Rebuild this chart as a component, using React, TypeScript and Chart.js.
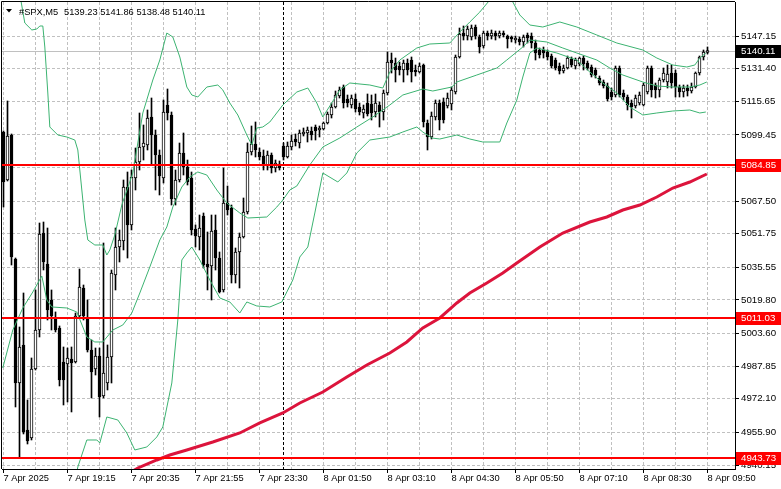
import React, { useEffect, useRef } from "react";
import { Chart, registerables } from "chart.js";

Chart.register(...registerables);

// ---------------- DATA ----------------
const symbolTitle = "#SPX,M5";
const ohlcTitle = "5139.23 5141.86 5138.48 5140.11";

const opens = [
  5100.83, 5077.67, 5099.38, 5039.55, 4979.72, 4998.06, 4957.05, 4953.19, 4986.48, 5005.30,
  5052.10, 5037.14, 5019.77, 5011.09, 5006.26, 4989.86, 4988.89, 4991.30, 4989.86, 5012.06,
  5025.56, 5011.09, 4995.65, 4986.48, 4992.75, 4973.45, 4979.72, 4992.27, 5031.83, 5045.34,
  5048.24, 5074.29, 5055.96, 5078.64, 5086.35, 5093.59, 5094.56, 5108.07, 5099.38, 5089.73,
  5078.64, 5113.86, 5109.03, 5068.50, 5077.67, 5090.70, 5083.94, 5078.64, 5054.03, 5050.17,
  5060.30, 5037.14, 5036.17, 5053.54, 5040.03, 5024.60, 5066.57, 5064.16, 5031.83, 5042.93,
  5050.17, 5062.23, 5091.18, 5095.04, 5091.18, 5089.25, 5084.43, 5089.73, 5083.46, 5085.39,
  5094.08, 5088.77, 5093.59, 5097.45, 5095.52, 5099.87, 5100.35, 5101.31, 5103.24, 5101.80,
  5102.28, 5105.17, 5109.03, 5112.89, 5118.20, 5122.54, 5116.75, 5113.86, 5116.75, 5112.89,
  5110.00, 5114.82, 5114.34, 5110.48, 5113.86, 5110.48, 5119.65, 5135.57, 5134.12, 5132.67,
  5130.75, 5134.12, 5135.57, 5130.75, 5129.78, 5133.16, 5105.17, 5098.42, 5108.07, 5114.82,
  5115.31, 5113.38, 5114.34, 5120.13, 5137.02, 5148.60, 5147.15, 5146.67, 5151.49, 5146.67,
  5142.32, 5148.60, 5147.15, 5148.60, 5147.15, 5148.60, 5147.15, 5146.67, 5145.22, 5145.70,
  5144.26, 5147.63, 5147.15, 5143.77, 5140.40, 5140.40, 5139.43, 5137.50, 5135.57, 5132.67,
  5130.26, 5131.71, 5136.05, 5132.67, 5133.64, 5136.53, 5134.12, 5132.19, 5130.75, 5126.89,
  5124.96, 5123.03, 5120.13, 5118.68, 5131.71, 5119.65, 5117.72, 5114.82, 5113.38, 5114.82,
  5113.86, 5120.13, 5131.71, 5123.51, 5121.10, 5125.92, 5124.96, 5129.30, 5129.30, 5122.54,
  5120.13, 5122.06, 5120.61, 5122.54, 5129.30, 5137.02, 5139.23,
];
const highs = [
  5101.31, 5115.79, 5099.87, 5040.03, 5006.75, 5023.15, 4971.52, 4991.79, 5024.60, 5056.92,
  5057.40, 5054.51, 5024.60, 5014.00, 5007.23, 4997.09, 4996.61, 4997.09, 5013.50, 5034.73,
  5027.01, 5019.77, 5000.47, 4996.61, 4996.61, 5047.27, 4998.06, 5034.24, 5054.51, 5053.54,
  5077.67, 5081.53, 5082.49, 5093.11, 5110.00, 5104.21, 5111.45, 5117.24, 5101.80, 5092.15,
  5116.27, 5121.58, 5110.48, 5082.49, 5095.52, 5100.35, 5087.32, 5081.53, 5055.96, 5060.78,
  5061.75, 5052.58, 5060.78, 5060.78, 5042.93, 5083.46, 5074.78, 5065.60, 5044.86, 5052.10,
  5068.99, 5095.52, 5103.73, 5105.66, 5093.11, 5092.15, 5091.66, 5090.70, 5087.32, 5086.84,
  5095.52, 5096.01, 5099.38, 5099.87, 5101.80, 5102.76, 5103.24, 5103.24, 5104.21, 5103.73,
  5105.66, 5110.48, 5114.82, 5120.61, 5122.54, 5123.51, 5118.68, 5118.68, 5119.17, 5114.82,
  5113.86, 5119.17, 5118.68, 5119.17, 5115.31, 5121.10, 5139.43, 5138.95, 5136.53, 5134.60,
  5135.57, 5136.05, 5137.02, 5133.16, 5134.12, 5133.64, 5106.62, 5110.48, 5116.27, 5116.27,
  5117.24, 5119.65, 5122.54, 5137.98, 5151.01, 5151.98, 5151.98, 5152.46, 5152.46, 5147.63,
  5149.56, 5149.56, 5150.05, 5149.56, 5149.56, 5149.56, 5147.63, 5147.15, 5147.15, 5146.67,
  5147.63, 5148.60, 5148.60, 5145.22, 5141.36, 5141.84, 5140.40, 5138.46, 5136.53, 5134.12,
  5133.16, 5137.50, 5137.02, 5136.53, 5137.02, 5137.50, 5135.09, 5133.16, 5131.71, 5127.85,
  5125.92, 5124.47, 5122.06, 5132.67, 5132.67, 5121.10, 5118.68, 5116.27, 5118.68, 5120.13,
  5124.47, 5132.67, 5132.67, 5124.47, 5126.89, 5131.71, 5133.16, 5133.16, 5130.75, 5123.51,
  5123.51, 5123.51, 5124.47, 5129.78, 5137.50, 5140.40, 5141.86,
];
const lows = [
  5064.64, 5077.19, 5036.66, 4968.15, 4943.73, 4955.12, 4950.29, 4952.22, 4985.99, 5001.92,
  5034.24, 5010.12, 5005.30, 5004.33, 4978.28, 4969.11, 4970.56, 4965.74, 4989.37, 5011.09,
  5010.12, 4994.68, 4972.49, 4983.58, 4963.33, 4972.49, 4976.35, 4979.72, 5024.60, 5038.11,
  5043.90, 5040.03, 5053.54, 5072.85, 5082.49, 5087.32, 5092.15, 5084.91, 5072.85, 5070.44,
  5076.22, 5106.62, 5065.60, 5065.60, 5076.71, 5080.08, 5075.26, 5051.13, 5045.34, 5043.90,
  5035.21, 5024.60, 5019.77, 5034.24, 5023.15, 5023.63, 5060.78, 5027.97, 5027.97, 5025.56,
  5049.68, 5061.27, 5089.73, 5088.77, 5087.32, 5082.49, 5082.49, 5081.05, 5081.53, 5082.49,
  5087.32, 5088.29, 5092.15, 5094.08, 5093.11, 5098.90, 5096.01, 5096.97, 5096.97, 5098.42,
  5101.80, 5104.69, 5107.59, 5112.41, 5117.24, 5112.41, 5112.89, 5112.41, 5110.48, 5109.03,
  5107.59, 5108.55, 5106.62, 5108.07, 5103.24, 5106.62, 5118.68, 5129.30, 5124.96, 5128.33,
  5124.96, 5128.33, 5124.96, 5127.85, 5129.30, 5103.24, 5092.15, 5097.45, 5106.62, 5101.80,
  5105.17, 5112.41, 5111.45, 5119.17, 5136.53, 5145.22, 5145.22, 5145.22, 5145.70, 5138.95,
  5141.36, 5145.22, 5145.70, 5145.22, 5146.19, 5146.67, 5141.36, 5144.26, 5143.77, 5142.81,
  5141.84, 5143.77, 5141.36, 5135.57, 5136.53, 5136.53, 5135.57, 5131.71, 5130.75, 5128.82,
  5129.30, 5131.23, 5132.19, 5131.23, 5132.67, 5130.75, 5130.75, 5127.37, 5126.89, 5123.51,
  5122.06, 5115.79, 5116.27, 5117.72, 5117.72, 5116.27, 5111.45, 5107.59, 5112.41, 5113.86,
  5113.38, 5119.17, 5117.72, 5117.24, 5117.72, 5124.96, 5122.06, 5122.06, 5117.72, 5117.72,
  5117.72, 5118.20, 5119.65, 5122.06, 5128.33, 5135.57, 5138.48,
];
const closes = [
  5076.71, 5098.90, 5040.52, 4979.72, 4997.09, 4956.09, 4951.74, 4986.48, 5005.30, 5051.61,
  5038.11, 5014.95, 5012.06, 5005.30, 4981.17, 4981.17, 4991.79, 4989.37, 5012.06, 5026.04,
  5012.06, 4995.65, 4985.03, 4992.75, 4972.97, 4984.55, 4992.27, 5032.80, 5045.34, 5048.72,
  5074.29, 5055.96, 5079.12, 5086.35, 5093.59, 5095.52, 5107.59, 5099.38, 5089.73, 5079.60,
  5110.48, 5110.00, 5068.50, 5077.67, 5090.70, 5083.94, 5076.71, 5053.54, 5050.65, 5054.51,
  5036.66, 5035.69, 5053.06, 5040.03, 5023.63, 5066.57, 5063.19, 5031.83, 5042.93, 5050.17,
  5062.23, 5091.18, 5095.04, 5092.15, 5088.77, 5084.43, 5089.73, 5083.46, 5085.87, 5083.46,
  5088.77, 5094.08, 5096.49, 5096.01, 5100.35, 5100.83, 5101.80, 5099.38, 5101.31, 5102.76,
  5105.17, 5109.52, 5112.89, 5118.68, 5121.10, 5114.82, 5114.82, 5117.24, 5111.93, 5110.48,
  5111.93, 5109.52, 5110.00, 5114.82, 5110.48, 5119.65, 5134.60, 5134.12, 5130.75, 5130.75,
  5134.12, 5130.75, 5129.78, 5129.78, 5132.67, 5105.66, 5098.42, 5108.55, 5114.82, 5106.62,
  5106.62, 5117.24, 5121.10, 5137.02, 5148.11, 5147.15, 5150.53, 5151.01, 5147.15, 5141.84,
  5148.60, 5147.15, 5148.60, 5147.15, 5148.60, 5147.63, 5145.70, 5145.70, 5146.19, 5144.26,
  5146.67, 5146.19, 5143.77, 5138.95, 5137.98, 5138.95, 5137.02, 5132.67, 5131.71, 5130.26,
  5131.71, 5136.53, 5133.16, 5135.57, 5136.53, 5133.64, 5131.71, 5128.33, 5128.33, 5124.47,
  5123.03, 5116.75, 5117.72, 5131.71, 5118.68, 5117.72, 5113.86, 5112.89, 5117.24, 5118.68,
  5123.51, 5131.71, 5121.10, 5121.10, 5125.92, 5129.30, 5128.82, 5124.47, 5122.54, 5120.13,
  5122.06, 5120.61, 5122.54, 5129.30, 5137.02, 5139.43, 5140.11,
];

// Bollinger bands and moving average as [bar, price]
const bbUpper = [
  [2.08, 5176.58], [4.33, 5164.52], [5.33, 5153.42], [7.08, 5150.05], [8.33, 5150.53], [9.08, 5151.98],
  [9.83, 5151.98], [10.33, 5141.84], [11.08, 5119.65], [11.58, 5103.24], [13.58, 5099.38], [15.83, 5098.42],
  [17.83, 5096.97], [18.58, 5092.15], [19.08, 5082.49], [20.33, 5058.37], [21.08, 5048.72], [22.83, 5046.31],
  [24.83, 5046.31], [25.83, 5041.48], [26.58, 5043.9], [27.83, 5051.13], [29.58, 5065.6], [32.33, 5081.05],
  [34.83, 5110.0], [37.33, 5125.92], [39.08, 5135.57], [40.83, 5148.6], [42.33, 5146.67], [44.08, 5137.02],
  [45.83, 5122.54], [47.08, 5118.68], [48.58, 5117.72], [50.83, 5122.54], [53.58, 5123.51], [54.83, 5121.1],
  [56.58, 5114.82], [58.58, 5109.03], [60.83, 5099.38], [62.08, 5094.56], [63.33, 5102.76], [64.83, 5103.24],
  [66.58, 5105.66], [69.83, 5113.86], [73.33, 5120.13], [76.08, 5122.06], [78.33, 5114.82], [79.83, 5108.07],
  [81.58, 5113.38], [84.08, 5121.1], [86.58, 5124.47], [91.58, 5123.51], [94.83, 5122.06], [96.58, 5129.78],
  [99.08, 5135.57], [103.33, 5141.36], [106.58, 5143.29], [111.58, 5143.77], [114.08, 5149.08], [116.58, 5153.91],
  [119.08, 5158.73], [121.58, 5164.52], [124.08, 5168.38], [126.58, 5166.45], [127.33, 5163.56], [129.08, 5157.28],
  [131.58, 5152.46], [134.83, 5151.49], [139.08, 5153.91], [143.33, 5151.49], [148.33, 5147.63], [153.33, 5143.77],
  [159.83, 5140.4], [163.33, 5136.53], [167.33, 5133.16], [170.83, 5132.19], [172.83, 5133.16], [174.08, 5136.53],
  [175.58, 5138.95],
];
const bbMiddle = [
  [-0.18, 4986.96], [2.33, 5005.3], [4.83, 5015.91], [7.33, 5023.63], [9.58, 5031.35], [10.83, 5019.77],
  [12.08, 5016.4], [15.83, 5015.91], [18.33, 5013.98], [20.83, 5001.92], [22.83, 4999.51], [24.83, 4999.51],
  [27.33, 5005.3], [29.83, 5007.71], [32.08, 5013.5], [34.08, 5023.15], [36.58, 5035.69], [39.08, 5048.72],
  [40.83, 5054.99], [42.33, 5064.64], [44.58, 5074.29], [46.58, 5079.12], [48.58, 5081.53], [50.83, 5080.08],
  [53.33, 5072.85], [55.83, 5066.57], [59.08, 5061.75], [61.08, 5059.33], [65.83, 5059.82], [68.33, 5064.64],
  [69.83, 5068.02], [71.58, 5072.85], [73.33, 5074.78], [76.58, 5084.91], [79.83, 5093.59], [84.08, 5097.94],
  [88.33, 5103.24], [92.33, 5108.07], [96.58, 5113.86], [99.83, 5118.68], [104.83, 5121.58], [107.33, 5120.61],
  [112.08, 5122.54], [113.33, 5124.96], [118.33, 5128.33], [123.33, 5131.71], [125.83, 5135.57], [129.83, 5141.84],
  [131.58, 5145.22], [135.83, 5144.26], [139.83, 5141.36], [143.33, 5138.95], [148.33, 5135.57], [151.58, 5131.71],
  [154.83, 5128.33], [159.83, 5124.96], [163.33, 5123.03], [167.33, 5122.54], [171.58, 5122.54], [174.08, 5123.51],
  [175.83, 5124.96],
];
const bbLower = [
  [17.08, 4923.27], [18.58, 4939.19], [20.83, 4952.22], [23.33, 4952.22], [24.08, 4950.77], [25.83, 4963.32],
  [28.58, 4961.87], [30.83, 4955.6], [32.83, 4947.4], [35.83, 4948.84], [38.33, 4953.67], [39.83, 4958.49],
  [42.08, 4979.72], [43.58, 5010.12], [44.58, 5039.07], [45.83, 5042.45], [47.08, 5045.34], [49.08, 5039.07],
  [51.58, 5029.42], [54.08, 5020.74], [56.58, 5018.81], [59.08, 5013.5], [60.83, 5018.81], [63.33, 5016.88],
  [66.58, 5016.4], [69.58, 5018.81], [72.33, 5029.42], [74.08, 5040.52], [76.08, 5045.34], [77.83, 5061.75],
  [79.83, 5081.05], [83.58, 5076.71], [85.83, 5081.05], [88.33, 5090.7], [91.58, 5096.97], [96.58, 5098.42],
  [99.83, 5100.83], [103.33, 5103.24], [104.83, 5100.83], [107.08, 5097.94], [109.08, 5097.45], [113.33, 5099.38],
  [116.58, 5097.45], [119.83, 5096.01], [124.08, 5096.01], [125.83, 5105.17], [128.33, 5116.27], [129.83, 5127.37],
  [131.58, 5138.95], [133.33, 5141.36], [138.33, 5138.95], [143.33, 5135.57], [146.58, 5129.78], [149.83, 5124.47],
  [153.33, 5119.65], [156.58, 5112.89], [159.83, 5109.03], [163.33, 5110.0], [167.33, 5110.96], [171.58, 5111.45],
  [174.08, 5110.0], [175.58, 5110.48],
];
const maLine = [
  [30.33, 4934.85], [33.58, 4938.71], [38.33, 4942.57], [41.58, 4944.98], [45.83, 4947.4], [52.33, 4951.26],
  [59.08, 4955.6], [64.08, 4960.43], [69.83, 4965.25], [74.08, 4970.07], [79.83, 4975.38], [85.83, 4982.62],
  [90.83, 4988.41], [96.58, 4994.2], [100.83, 4999.51], [104.83, 5006.26], [109.08, 5011.09], [113.33, 5018.32],
  [116.58, 5023.15], [120.83, 5027.97], [124.83, 5032.8], [128.33, 5037.62], [134.08, 5045.34], [139.83, 5052.1],
  [146.58, 5057.4], [150.83, 5059.82], [154.83, 5063.19], [159.08, 5065.6], [163.33, 5069.47], [167.33, 5073.81],
  [171.58, 5076.71], [175.83, 5080.56],
];

const xTickLabels = [
  "7 Apr 2025", "7 Apr 19:15", "7 Apr 20:35", "7 Apr 21:55", "7 Apr 23:30", "8 Apr 01:50",
  "8 Apr 03:10", "8 Apr 04:30", "8 Apr 05:50", "8 Apr 07:10", "8 Apr 08:30", "8 Apr 09:50",
];
const xTickLabelBars = [0, 16, 32, 48, 64, 80, 96, 112, 128, 144, 160, 176];
const xGridBars = [0, 8, 16, 24, 32, 40, 48, 56, 64, 72, 80, 88, 96, 104, 112, 120, 128, 136, 144, 152, 160, 168, 176];

const yTickValues = [5147.15, 5131.4, 5115.65, 5099.45, 5083.7, 5067.5, 5051.75, 5035.55, 5019.8, 5003.6, 4987.85, 4972.1, 4955.9, 4940.15];
const yTickLabels = ["5147.15", "5131.40", "5115.65", "5099.45", "5083.70", "5067.50", "5051.75", "5035.55", "5019.80", "5003.60", "4987.85", "4972.10", "4955.90", "4940.15"];

const levelLines = [5084.85, 5011.03, 4943.73];
const lastPrice = 5140.11;
const separatorBar = 70;

const yMin = 4938.22;
const yMax = 5163.56;
const xMin = -0.375;
const xMax = 182.875;

// ---------------- STYLE ----------------
const FONT = '"Liberation Sans", Arial, sans-serif';
const FONT_SIZE = 9.3;
const Y_FONT_SIZE = 9.7;
const GRID = "#c0c0c0";
const BB_COLOR = "#3cb371";
const MA_COLOR = "#dc143c";

const overlay = {
  id: "mt4overlay",
  beforeDatasetsDraw(chart: any) {
    const { ctx, chartArea: a, scales } = chart;
    const x = scales.x;
    const y = scales.y;
    ctx.save();
    // bid line
    const by = Math.round(y.getPixelForValue(lastPrice)) + 0.5;
    ctx.strokeStyle = GRID;
    ctx.lineWidth = 1;
    ctx.beginPath();
    ctx.moveTo(a.left, by);
    ctx.lineTo(a.right, by);
    ctx.stroke();
    // period separator
    const sx = Math.floor(x.getPixelForValue(separatorBar)) + 0.5;
    ctx.strokeStyle = "#000";
    ctx.setLineDash([3, 2]);
    ctx.beginPath();
    ctx.moveTo(sx, a.top);
    ctx.lineTo(sx, a.bottom);
    ctx.stroke();
    ctx.restore();
  },
  afterDatasetsDraw(chart: any) {
    const { ctx, chartArea: a, scales } = chart;
    const y = scales.y;
    ctx.save();
    ctx.strokeStyle = "#ff0000";
    ctx.lineWidth = 2;
    levelLines.forEach((v) => {
      const py = Math.round(y.getPixelForValue(v));
      ctx.beginPath();
      ctx.moveTo(a.left, py);
      ctx.lineTo(a.right, py);
      ctx.stroke();
    });
    ctx.restore();
  },
  afterDraw(chart: any) {
    const { ctx, chartArea: a, scales, width } = chart;
    const y = scales.y;
    ctx.save();
    // frame top / left
    ctx.strokeStyle = "#000";
    ctx.lineWidth = 1;
    ctx.beginPath();
    ctx.moveTo(a.left - 0.5, a.bottom);
    ctx.lineTo(a.left - 0.5, a.top - 0.5);
    ctx.lineTo(a.right, a.top - 0.5);
    ctx.stroke();

    ctx.font = `${Y_FONT_SIZE}px ${FONT}`;
    ctx.textBaseline = "middle";
    ctx.textAlign = "left";
    const tag = (v: number, bg: string) => {
      const py = Math.round(y.getPixelForValue(v));
      ctx.fillStyle = bg;
      ctx.fillRect(a.right + 1, py - 6, width - a.right - 1, 13);
      ctx.fillStyle = "#fff";
      ctx.fillText(v.toFixed(2), a.right + 6, py + 0.5);
    };
    levelLines.forEach((v) => tag(v, "#ff0000"));
    tag(lastPrice, "#000");

    // title
    ctx.font = `${FONT_SIZE}px ${FONT}`;
    ctx.fillStyle = "#000";
    ctx.beginPath();
    ctx.moveTo(6, 9);
    ctx.lineTo(12, 9);
    ctx.lineTo(9, 12.5);
    ctx.closePath();
    ctx.fill();
    ctx.textBaseline = "alphabetic";
    ctx.fillText(symbolTitle, 19, 14.5);
    ctx.fillText(ohlcTitle, 64, 14.5);
    ctx.restore();
  },
};

export default function App() {
  const ref = useRef<HTMLCanvasElement>(null);
  useEffect(() => {
    const canvas = ref.current;
    if (!canvas) return;
    const wicks = closes.map((c, i) => ({ x: i, y: [lows[i], highs[i]] }));
    const bodies = closes.map((c, i) => ({ x: i, y: [opens[i], c] }));
    const bodyFill = closes.map((c, i) => (c >= opens[i] ? "#ffffff" : "#000000"));
    const toXY = (arr: number[][]) => arr.map((p) => ({ x: p[0], y: p[1] }));
    const lineDs = (label: string, arr: number[][], color: string, w: number, order: number) => ({
      type: "line",
      label,
      data: toXY(arr),
      borderColor: color,
      borderWidth: w,
      pointRadius: 0,
      tension: 0,
      fill: false,
      clip: 0,
      order,
    });

    const chart = new Chart(canvas, {
      type: "bar",
      data: {
        datasets: [
          {
            label: "wick",
            data: wicks,
            backgroundColor: "#000",
            borderWidth: 0,
            barThickness: 1,
            grouped: false,
            clip: 0,
            order: 5,
          } as any,
          {
            label: "body",
            data: bodies,
            backgroundColor: bodyFill,
            borderColor: "#000",
            borderWidth: 1,
            borderSkipped: false,
            barThickness: 3,
            minBarLength: 1,
            grouped: false,
            clip: 0,
            order: 4,
          } as any,
          lineDs("BB upper", bbUpper, BB_COLOR, 1, 2) as any,
          lineDs("BB middle", bbMiddle, BB_COLOR, 1, 2) as any,
          lineDs("BB lower", bbLower, BB_COLOR, 1, 2) as any,
          lineDs("MA", maLine, MA_COLOR, 3, 1) as any,
        ],
      },
      options: {
        responsive: false,
        maintainAspectRatio: false,
        devicePixelRatio: 1,
        animation: false,
        events: [],
        layout: { padding: { left: 2, top: 2, right: 0, bottom: 0 } },
        plugins: { legend: { display: false }, tooltip: { enabled: false }, title: { display: false } },
        scales: {
          x: {
            type: "linear",
            position: "bottom",
            min: xMin,
            max: xMax,
            offset: false,
            afterBuildTicks: (s: any) => {
              s.ticks = xGridBars.map((v) => ({ value: v }));
            },
            afterFit: (s: any) => {
              s.height = 20;
              s.paddingLeft = 0;
              s.paddingRight = 0;
            },
            ticks: {
              autoSkip: false,
              maxRotation: 0,
              minRotation: 0,
              align: "start",
              padding: 0,
              color: "#000",
              font: { family: FONT, size: FONT_SIZE },
              callback: (value: any) => {
                const k = xTickLabelBars.indexOf(Number(value));
                return k >= 0 ? xTickLabels[k] : "";
              },
            },
            grid: {
              color: GRID,
              lineWidth: 1,
              offset: false,
              drawTicks: true,
              tickLength: 4,
              tickColor: (c: any) =>
                c.tick && xTickLabelBars.indexOf(c.tick.value) >= 0 ? "#000" : "rgba(0,0,0,0)",
              tickBorderDash: [],
            },
            border: { display: true, color: "#000", width: 1, dash: [3, 2] },
          },
          y: {
            type: "linear",
            position: "right",
            min: yMin,
            max: yMax,
            afterBuildTicks: (s: any) => {
              s.ticks = yTickValues.map((v) => ({ value: v }));
            },
            afterFit: (s: any) => {
              s.width = 46;
              s.paddingTop = 0;
              s.paddingBottom = 0;
            },
            ticks: {
              padding: 2,
              color: "#000",
              font: { family: FONT, size: Y_FONT_SIZE },
              callback: (_v: any, i: number) => yTickLabels[i],
            },
            grid: {
              color: GRID,
              lineWidth: 1,
              drawTicks: true,
              tickLength: 4,
              tickColor: "#000",
              tickBorderDash: [],
            },
            border: { display: true, color: "#000", width: 1, dash: [3, 2] },
          },
        },
      } as any,
      plugins: [overlay as any],
    });
    return () => chart.destroy();
  }, []);

  return (
    <div style={{ position: "absolute", left: 0, top: 0, width: 781, height: 489, background: "#fff" }}>
      <canvas ref={ref} width={781} height={489} style={{ display: "block", width: 781, height: 489 }} />
    </div>
  );
}
